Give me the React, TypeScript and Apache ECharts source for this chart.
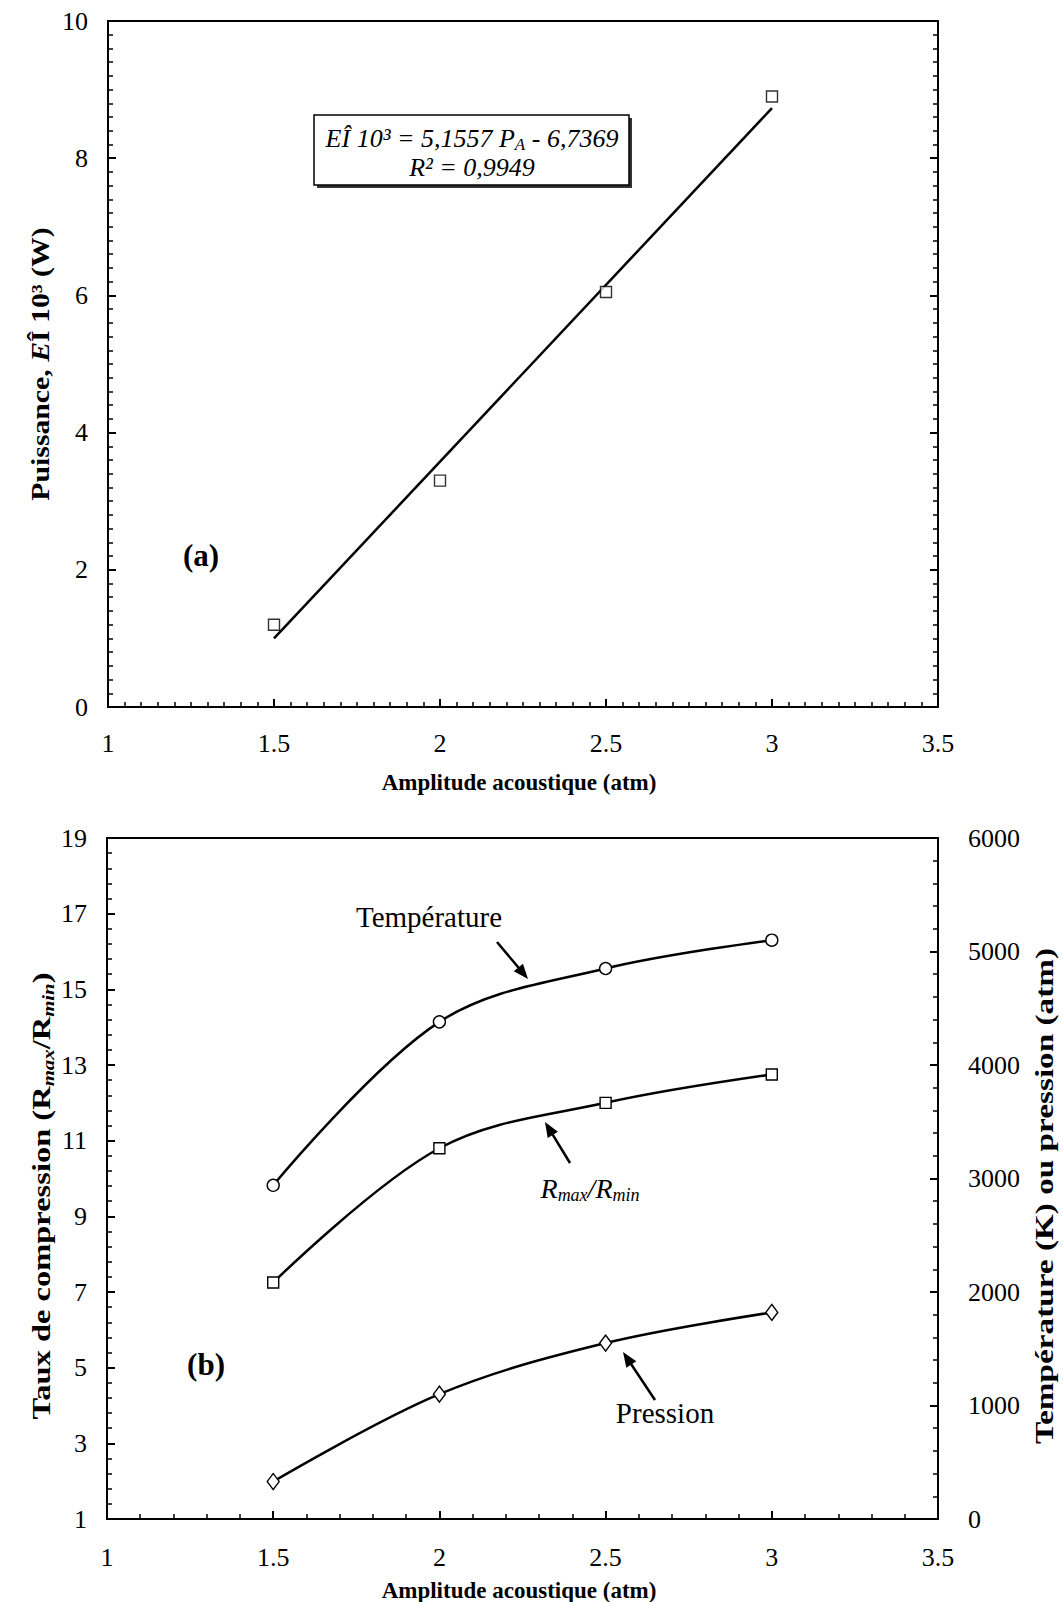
import React, { useEffect, useRef } from "react";
import * as echarts from "echarts";

// ---- Data (a) ----
const ampA = [1.5, 2, 2.5, 3];
const powerA = [1.2, 3.3, 6.05, 8.9];
const trendX = [1.5, 3];
const trendY = [1.0, 8.73];

// ---- Data (b) ----
const ampB = [1.5, 2, 2.5, 3];
const ratioB = [7.25, 10.8, 12.0, 12.75];
const tempB = [2940, 4380, 4850, 5100];
const pressB = [330, 1100, 1550, 1820];

const FONT = "'Liberation Serif', 'Times New Roman', serif";
const BLACK = "#000";

function zip(xs: number[], ys: number[]) {
  return xs.map((x, i) => [x, ys[i]]);
}

function arrow(x1: number, y1: number, x2: number, y2: number) {
  const dx = x2 - x1;
  const dy = y2 - y1;
  const len = Math.sqrt(dx * dx + dy * dy);
  const ux = dx / len;
  const uy = dy / len;
  const hl = 15;
  const hw = 6;
  const bx = x2 - ux * hl;
  const by = y2 - uy * hl;
  return {
    type: "group",
    children: [
      {
        type: "line",
        shape: { x1, y1, x2: bx + ux * 2, y2: by + uy * 2 },
        style: { stroke: BLACK, lineWidth: 2.5 },
      },
      {
        type: "polygon",
        shape: {
          points: [
            [x2, y2],
            [bx - uy * hw, by + ux * hw],
            [bx + uy * hw, by - ux * hw],
          ],
        },
        style: { fill: BLACK },
      },
    ],
  };
}

const axisCommon = {
  axisLine: { show: true, onZero: false, lineStyle: { color: BLACK, width: 2 } },
  axisTick: { show: true, inside: true, length: 8, lineStyle: { color: BLACK, width: 2 } },
  splitLine: { show: false },
  axisLabel: { color: BLACK, fontSize: 26, fontFamily: FONT, formatter: (v: number) => String(v) },
};

export default function App() {
  const ref = useRef<HTMLDivElement>(null);
  useEffect(() => {
    document.body.style.margin = "0";
    if (!ref.current) return;
    const chart = echarts.init(ref.current, undefined, { renderer: "svg" });

    const richTitle = {
      b: { fontSize: 25, fontWeight: "bold", fontFamily: FONT, fill: BLACK, lineHeight: 30 },
      bi: { fontSize: 25, fontWeight: "bold", fontStyle: "italic", fontFamily: FONT, fill: BLACK, lineHeight: 30 },
      s: {
        fontSize: 16,
        fontWeight: "bold",
        fontStyle: "italic",
        fontFamily: FONT,
        fill: BLACK,
        lineHeight: 13,
        verticalAlign: "bottom",
      },
    };

    const option: any = {
      animation: false,
      backgroundColor: "#fff",
      grid: [
        { left: 108, top: 21, width: 830, height: 686, show: true, borderColor: BLACK, borderWidth: 2 },
        { left: 107, top: 838, width: 831, height: 681, show: true, borderColor: BLACK, borderWidth: 2 },
      ],
      xAxis: [
        {
          ...axisCommon,
          type: "value",
          gridIndex: 0,
          min: 1,
          max: 3.5,
          interval: 0.5,
          minorTick: { show: true, splitNumber: 10, length: 5, lineStyle: { color: BLACK, width: 1.5 } },
          axisLabel: { ...axisCommon.axisLabel, margin: 23 },
        },
        {
          ...axisCommon,
          type: "value",
          gridIndex: 1,
          min: 1,
          max: 3.5,
          interval: 0.5,
          minorTick: { show: true, splitNumber: 5, length: 5, lineStyle: { color: BLACK, width: 1.5 } },
          axisLabel: { ...axisCommon.axisLabel, margin: 25 },
        },
      ],
      yAxis: [
        {
          ...axisCommon,
          type: "value",
          gridIndex: 0,
          position: "left",
          min: 0,
          max: 10,
          interval: 2,
          minorTick: { show: true, splitNumber: 10, length: 5, lineStyle: { color: BLACK, width: 1.5 } },
          axisLabel: { ...axisCommon.axisLabel, margin: 20 },
        },
        {
          ...axisCommon,
          type: "value",
          gridIndex: 0,
          position: "right",
          min: 0,
          max: 10,
          interval: 2,
          minorTick: { show: true, splitNumber: 10, length: 5, lineStyle: { color: BLACK, width: 1.5 } },
          axisLabel: { show: false },
        },
        {
          ...axisCommon,
          type: "value",
          gridIndex: 1,
          position: "left",
          min: 1,
          max: 19,
          interval: 2,
          minorTick: { show: true, splitNumber: 5, length: 5, lineStyle: { color: BLACK, width: 1.5 } },
          axisLabel: { ...axisCommon.axisLabel, margin: 20 },
        },
        {
          ...axisCommon,
          type: "value",
          gridIndex: 1,
          position: "right",
          min: 0,
          max: 6000,
          interval: 1000,
          minorTick: { show: true, splitNumber: 5, length: 5, lineStyle: { color: BLACK, width: 1.5 } },
          axisLabel: { ...axisCommon.axisLabel, margin: 30 },
        },
      ],
      series: [
        {
          type: "line",
          xAxisIndex: 0,
          yAxisIndex: 0,
          data: zip(trendX, trendY),
          showSymbol: false,
          lineStyle: { color: BLACK, width: 2.5 },
          z: 2,
        },
        {
          type: "scatter",
          xAxisIndex: 0,
          yAxisIndex: 0,
          data: zip(ampA, powerA),
          symbol: "rect",
          symbolSize: 11,
          itemStyle: { color: "#fff", borderColor: BLACK, borderWidth: 1.4 },
          z: 3,
        },
        {
          type: "line",
          xAxisIndex: 1,
          yAxisIndex: 3,
          data: zip(ampB, tempB),
          smooth: 0.35,
          symbol: "circle",
          symbolSize: 12,
          showAllSymbol: true,
          itemStyle: { color: "#fff", borderColor: BLACK, borderWidth: 1.4 },
          lineStyle: { color: BLACK, width: 2.5 },
          z: 3,
        },
        {
          type: "line",
          xAxisIndex: 1,
          yAxisIndex: 2,
          data: zip(ampB, ratioB),
          smooth: 0.35,
          symbol: "rect",
          symbolSize: 11,
          showAllSymbol: true,
          itemStyle: { color: "#fff", borderColor: BLACK, borderWidth: 1.4 },
          lineStyle: { color: BLACK, width: 2.5 },
          z: 3,
        },
        {
          type: "line",
          xAxisIndex: 1,
          yAxisIndex: 3,
          data: zip(ampB, pressB),
          smooth: 0.35,
          symbol: "diamond",
          symbolSize: [12, 16],
          showAllSymbol: true,
          itemStyle: { color: "#fff", borderColor: BLACK, borderWidth: 1.4 },
          lineStyle: { color: BLACK, width: 2.5 },
          z: 3,
        },
      ],
      graphic: [
        // equation box (a)
        {
          type: "rect",
          shape: { x: 317, y: 118, width: 315, height: 70 },
          style: { fill: "#333", stroke: "none" },
          z: 10,
        },
        {
          type: "rect",
          shape: { x: 314, y: 115, width: 315, height: 70 },
          style: { fill: "#fff", stroke: BLACK, lineWidth: 1.5 },
          z: 11,
        },
        {
          type: "text",
          x: 472,
          y: 153,
          z: 12,
          style: {
            text: "{i|EÎ 10³ = 5,1557 P}{s|A}{i| - 6,7369}\n{i|R² = 0,9949}",
            align: "center",
            verticalAlign: "middle",
            rich: {
              i: { fontSize: 26, fontStyle: "italic", fontFamily: FONT, fill: BLACK, lineHeight: 29 },
              s: {
                fontSize: 17,
                fontStyle: "italic",
                fontFamily: FONT,
                fill: BLACK,
                lineHeight: 14,
                verticalAlign: "bottom",
              },
            },
          },
        },
        // (a) label
        {
          type: "text",
          x: 201,
          y: 555,
          style: {
            text: "(a)",
            fontSize: 31,
            fontWeight: "bold",
            fontFamily: FONT,
            fill: BLACK,
            align: "center",
            verticalAlign: "middle",
          },
        },
        // (b) label
        {
          type: "text",
          x: 206,
          y: 1364,
          style: {
            text: "(b)",
            fontSize: 31,
            fontWeight: "bold",
            fontFamily: FONT,
            fill: BLACK,
            align: "center",
            verticalAlign: "middle",
          },
        },
        // x titles
        {
          type: "text",
          x: 519,
          y: 782,
          style: {
            text: "Amplitude acoustique (atm)",
            fontSize: 23,
            fontWeight: "bold",
            fontFamily: FONT,
            fill: BLACK,
            align: "center",
            verticalAlign: "middle",
          },
        },
        {
          type: "text",
          x: 519,
          y: 1590,
          style: {
            text: "Amplitude acoustique (atm)",
            fontSize: 23,
            fontWeight: "bold",
            fontFamily: FONT,
            fill: BLACK,
            align: "center",
            verticalAlign: "middle",
          },
        },
        // y title (a)
        {
          type: "text",
          x: 41,
          y: 364,
          rotation: Math.PI / 2,
          scaleX: 1.19,
          style: {
            text: "{b|Puissance, }{bi|E}{b|Î 10³ (W)}",
            align: "center",
            verticalAlign: "middle",
            rich: richTitle,
          },
        },
        // y title (b) left
        {
          type: "text",
          x: 41,
          y: 1196,
          rotation: Math.PI / 2,
          scaleX: 1.3,
          style: {
            text: "{b|Taux de compression (R}{s|max}{b|/R}{s|min}{b|)}",
            align: "center",
            verticalAlign: "middle",
            rich: richTitle,
          },
        },
        // y title (b) right
        {
          type: "text",
          x: 1045,
          y: 1196,
          rotation: Math.PI / 2,
          scaleX: 1.33,
          style: {
            text: "Température (K) ou pression (atm)",
            fontSize: 25,
            fontWeight: "bold",
            fontFamily: FONT,
            fill: BLACK,
            align: "center",
            verticalAlign: "middle",
          },
        },
        // annotations (b)
        {
          type: "text",
          x: 429,
          y: 917,
          style: {
            text: "Température",
            fontSize: 29,
            fontFamily: FONT,
            fill: BLACK,
            align: "center",
            verticalAlign: "middle",
          },
        },
        arrow(497, 942, 528, 979),
        {
          type: "text",
          x: 590,
          y: 1188,
          style: {
            text: "{r|R}{s|max}{r|/R}{s|min}",
            align: "center",
            verticalAlign: "middle",
            rich: {
              r: { fontSize: 28, fontStyle: "italic", fontFamily: FONT, fill: BLACK, lineHeight: 32 },
              s: {
                fontSize: 18,
                fontStyle: "italic",
                fontFamily: FONT,
                fill: BLACK,
                lineHeight: 14,
                verticalAlign: "bottom",
              },
            },
          },
        },
        arrow(570, 1163, 545, 1122),
        {
          type: "text",
          x: 665,
          y: 1413,
          style: {
            text: "Pression",
            fontSize: 29,
            fontFamily: FONT,
            fill: BLACK,
            align: "center",
            verticalAlign: "middle",
          },
        },
        arrow(655, 1400, 623, 1352),
      ],
    };

    chart.setOption(option);
    return () => chart.dispose();
  }, []);

  return <div ref={ref} style={{ width: 1063, height: 1602 }} />;
}
